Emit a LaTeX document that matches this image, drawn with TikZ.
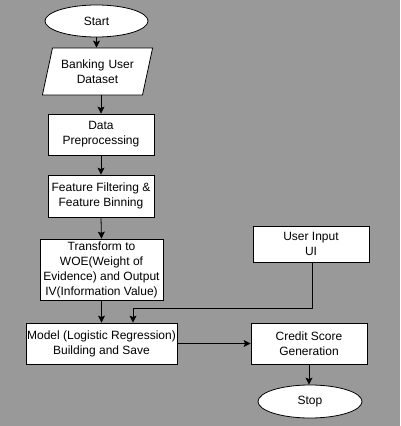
\documentclass[tikz,border=0pt]{standalone}
\usepackage{fontspec}
\setmainfont{Liberation Sans}
\usetikzlibrary{shapes.geometric,arrows.meta}
\begin{document}
\begin{tikzpicture}[x=1pt,y=-1pt,
  every node/.style={font=\fontsize{12}{15}\selectfont, align=center, text=black},
  box/.style={draw=black, fill=white, line width=0.8pt, rectangle, inner sep=0pt},
  term/.style={draw=black, fill=white, line width=0.8pt, ellipse, inner sep=0pt},
  io/.style={draw=black, fill=white, line width=0.8pt, trapezium, trapezium left angle=67, trapezium right angle=113, inner sep=0pt},
  conn/.style={draw=black, line width=0.8pt, -{Stealth[length=7pt,width=7pt,inset=1.5pt]}},
  plain/.style={draw=black, line width=0.8pt}]
\fill[fill={rgb,255:red,153;green,153;blue,153}] (0,0) rectangle (400,426);
\useasboundingbox (0,0) rectangle (400,426);
\node[term, minimum width=103pt, minimum height=32pt] (start) at (96.5,21) {Start};
\node[io, minimum width=89pt, minimum height=47pt, trapezium stretches=true, text width=90pt] (data) at (97.5,71.5) {Banking User\\Dataset};
\node[box, minimum width=106pt, minimum height=41pt] (prep) at (101,134.5) {Data\\Preprocessing};
\node[box, minimum width=106pt, minimum height=42pt] (feat) at (101,196) {Feature Filtering \&\\Feature Binning};
\node[box, minimum width=123pt, minimum height=61pt] (woe) at (101.5,269.5) {Transform to\\WOE(Weight of\\Evidence) and Output\\IV(Information Value)};
\node[box, minimum width=151pt, minimum height=41pt] (model) at (101.5,343.5) {Model (Logistic Regression)\\Building and Save};
\node[box, minimum width=116pt, minimum height=36pt] (ui) at (311,244) {User Input\\UI};
\node[box, minimum width=116pt, minimum height=41pt] (credit) at (309,343.5) {Credit Score\\Generation};
\node[term, minimum width=104pt, minimum height=33pt] (stop) at (310,401.5) {Stop};
\coordinate (c1) at (312,308);
\coordinate (c2) at (133,308);
\draw[conn] (start.south) -- (start.south |- data.north);
\draw[conn] (101,95) -- (prep.north);
\draw[conn] (prep.south) -- (feat.north);
\draw[conn] (feat.south) -- (woe.north);
\draw[conn] (woe.south) -- (model.north);
\draw[conn] (ui.south -| c1) -- (c1) -- (c2) -- (c2 |- model.north);
\draw[conn] (model.east) -- (credit.west);
\draw[conn] (credit.south) -- (credit.south |- stop.north);
\end{tikzpicture}
\end{document}
